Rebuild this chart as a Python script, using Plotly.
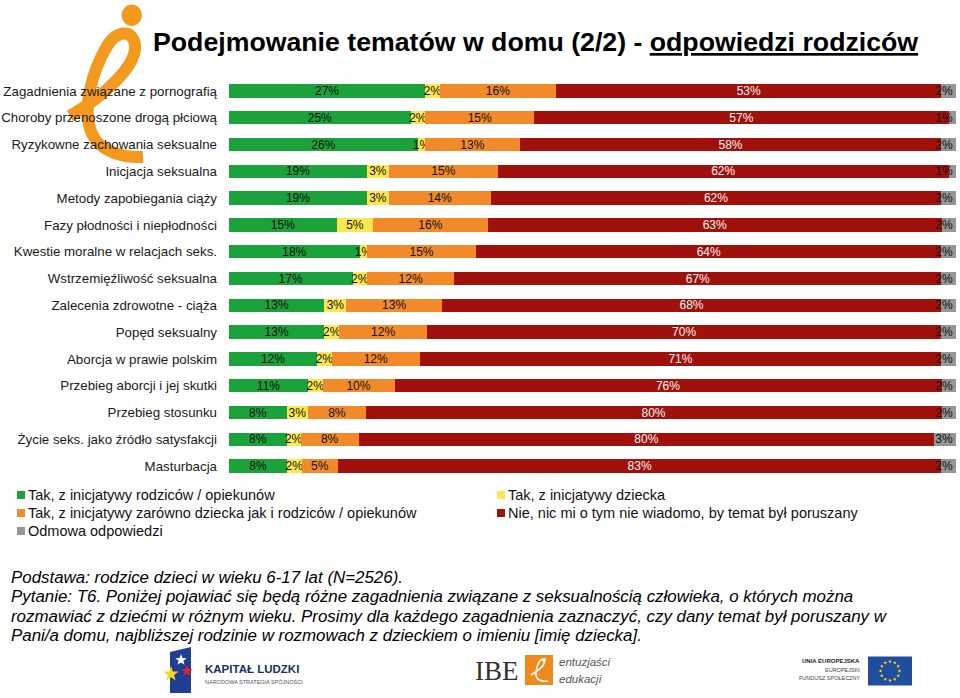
import math
import plotly.graph_objects as go

categories = [
    "Zagadnienia związane z pornografią",
    "Choroby przenoszone drogą płciową",
    "Ryzykowne zachowania seksualne",
    "Inicjacja seksualna",
    "Metody zapobiegania ciąży",
    "Fazy płodności i niepłodności",
    "Kwestie moralne w relacjach seks.",
    "Wstrzemięźliwość seksualna",
    "Zalecenia zdrowotne - ciąża",
    "Popęd seksualny",
    "Aborcja w prawie polskim",
    "Przebieg aborcji i jej skutki",
    "Przebieg stosunku",
    "Życie seks. jako źródło satysfakcji",
    "Masturbacja",
]
parents = [27, 25, 26, 19, 19, 15, 18, 17, 13, 13, 12, 11, 8, 8, 8]
child = [2, 2, 1, 3, 3, 5, 1, 2, 3, 2, 2, 2, 3, 2, 2]
both = [16, 15, 13, 15, 14, 16, 15, 12, 13, 12, 12, 10, 8, 8, 5]
no = [53, 57, 58, 62, 62, 63, 64, 67, 68, 70, 71, 76, 80, 80, 83]
refused = [2, 1, 2, 1, 2, 2, 2, 2, 2, 2, 2, 2, 2, 3, 2]

series_names = [
    "Tak, z inicjatywy rodziców / opiekunów",
    "Tak, z inicjatywy dziecka",
    "Tak, z inicjatywy zarówno dziecka jak i rodziców / opiekunów",
    "Nie, nic mi o tym nie wiadomo, by temat był poruszany",
    "Odmowa odpowiedzi",
]
series_values = [parents, child, both, no, refused]
colors = ["#1BA23A", "#FCE84E", "#F28A2A", "#A0110C", "#969696"]
text_colors = ["#111111", "#111111", "#111111", "#F4F4F4", "#111111"]
text_anchor = ["middle", "middle", "middle", "middle", "end"]

W, H = 960, 698


def X(px):
    return px / W


def Y(py):
    return 1 - py / H


totals = [sum(s[i] for s in series_values) for i in range(len(categories))]

fig = go.Figure()
for name, vals, col, tcol, anc in zip(series_names, series_values, colors, text_colors, text_anchor):
    widths = [v / t * 100 for v, t in zip(vals, totals)]
    fig.add_trace(go.Bar(
        y=categories, x=widths, orientation="h", name=name,
        marker=dict(color=col, line=dict(width=0)),
        text=[f"{v}%" for v in vals], textposition="inside",
        insidetextanchor=anc, textangle=0,
        textfont=dict(size=12, color=tcol, family="Liberation Sans, Arial"),
        hoverinfo="skip", showlegend=False,
    ))

fig.update_layout(
    width=W, height=H, barmode="stack", bargap=0.5,
    margin=dict(l=0, r=0, t=0, b=0),
    paper_bgcolor="white", plot_bgcolor="white",
    font=dict(family="Liberation Sans, Arial", color="#1a1a1a"),
    uniformtext=dict(minsize=12, mode="show"),
    xaxis=dict(domain=[X(229), X(956)], range=[0, 100], visible=False, fixedrange=True),
    yaxis=dict(domain=[Y(479.5), Y(77.5)], autorange="reversed", showgrid=False,
               showline=False, zeroline=False, ticks="", automargin=False,
               ticklabelstandoff=11, tickfont=dict(size=13.3, color="#1a1a1a")),
    showlegend=False,
)

annotations = []
annotations.append(dict(
    text="<b>Podejmowanie tematów w domu (2/2) - <u>odpowiedzi rodziców</u></b>",
    x=X(535), y=Y(42), xanchor="center", yanchor="middle",
    font=dict(size=26.7, color="#000000", family="Liberation Sans, Arial")))

footer = [
    "Podstawa: rodzice dzieci w wieku 6-17 lat (N=2526).",
    "Pytanie: T6. Poniżej pojawiać się będą różne zagadnienia związane z seksualnością człowieka, o których można",
    "rozmawiać z dziećmi w różnym wieku. Prosimy dla każdego zagadnienia zaznaczyć, czy dany temat był poruszany w",
    "Pani/a domu, najbliższej rodzinie w rozmowach z dzieckiem o imieniu [imię dziecka].",
]
for i, line in enumerate(footer):
    annotations.append(dict(
        text=f"<i>{line}</i>", x=X(9), y=Y(577 + i * 19.6), xanchor="left", yanchor="middle",
        font=dict(size=16.9, color="#000000", family="Liberation Sans, Arial")))

# legend (two columns: left column items 0,2,4; right column items 1,3)
legend_pos = [(17, 495), (497, 495), (17, 513), (497, 513), (17, 531)]
shapes = []
for name, col, (lx, ly) in zip(series_names, colors, legend_pos):
    shapes.append(dict(type="rect", xref="paper", yref="paper", x0=X(lx), x1=X(lx + 8),
                       y0=Y(ly + 4), y1=Y(ly - 4), fillcolor=col, line=dict(width=0)))
    annotations.append(dict(text=name, x=X(lx + 9), y=Y(ly), xanchor="left", yanchor="middle",
                            font=dict(size=14.5, color="#111111", family="Liberation Sans, Arial")))

# footer logos text
annotations += [
    dict(text="<b>KAPITAŁ LUDZKI</b>", x=X(203), y=Y(669), xanchor="left", yanchor="middle",
         font=dict(size=11.5, color="#1d2d5a", family="Liberation Sans, Arial")),
    dict(text="NARODOWA STRATEGIA SPÓJNOŚCI", x=X(203), y=Y(681), xanchor="left", yanchor="middle",
         font=dict(size=5.5, color="#555555", family="Liberation Sans, Arial")),
    dict(text="IBE", x=X(521), y=Y(671), xanchor="right", yanchor="middle",
         font=dict(size=27, color="#333333", family="Liberation Serif, DejaVu Serif")),
    dict(text="<i>entuzjaści</i>", x=X(557), y=Y(662), xanchor="left", yanchor="middle",
         font=dict(size=11.5, color="#555555", family="Liberation Sans, Arial")),
    dict(text="<i>edukacji</i>", x=X(557), y=Y(679), xanchor="left", yanchor="middle",
         font=dict(size=11.5, color="#555555", family="Liberation Sans, Arial")),
    dict(text="<b>UNIA EUROPEJSKA</b>", x=X(862), y=Y(661), xanchor="right", yanchor="middle",
         font=dict(size=6, color="#222222", family="Liberation Sans, Arial")),
    dict(text="EUROPEJSKI", x=X(862), y=Y(670), xanchor="right", yanchor="middle",
         font=dict(size=5.5, color="#444444", family="Liberation Sans, Arial")),
    dict(text="FUNDUSZ SPOŁECZNY", x=X(862), y=Y(678), xanchor="right", yanchor="middle",
         font=dict(size=5.5, color="#444444", family="Liberation Sans, Arial")),
]
for a in annotations:
    a.update(xref="paper", yref="paper", showarrow=False)
fig.update_layout(annotations=annotations)


def path_px(cmds):
    out = []
    for c in cmds:
        if isinstance(c, str):
            out.append(c)
        else:
            out.append(f"{X(c[0]):.5f},{Y(c[1]):.5f}")
    return " ".join(out)


def star_path(cx, cy, r_out, r_in):
    pts = []
    for k in range(10):
        ang = -math.pi / 2 + k * math.pi / 5
        r = r_out if k % 2 == 0 else r_in
        pts.append((cx + r * math.cos(ang), cy + r * math.sin(ang)))
    cmds = ["M", pts[0]]
    for p in pts[1:]:
        cmds += ["L", p]
    cmds.append("Z")
    return path_px(cmds)


orange = "#F39A1E"
# top-left orange "e" logo
shapes.append(dict(type="circle", xref="paper", yref="paper", x0=X(121.5), x1=X(142), y0=Y(26), y1=Y(4.5),
                   fillcolor=orange, line=dict(width=0), layer="below"))
shapes.append(dict(type="path", xref="paper", yref="paper", layer="below",
                   path=path_px(["M", (70, 116), "C", (104, 96), (137, 66), (135, 45),
                                 "C", (133, 29), (117, 30), (107, 46),
                                 "C", (93, 70), (81, 108), (92, 134),
                                 "C", (100, 152), (124, 158), (143, 157)]),
                   line=dict(color=orange, width=12)))
# Kapitał Ludzki graphic
shapes.append(dict(type="path", xref="paper", yref="paper",
                   path=path_px(["M", (170, 652), "L", (191, 647), "L", (191, 693), "L", (170, 693), "Z"]),
                   fillcolor="#1F3F94", line=dict(width=0)))
shapes.append(dict(type="path", xref="paper", yref="paper", path=star_path(181, 660, 6, 2.5),
                   fillcolor="#FFFFFF", line=dict(width=0)))
shapes.append(dict(type="path", xref="paper", yref="paper", path=star_path(187, 671, 6, 2.5),
                   fillcolor="#E2232A", line=dict(width=0)))
shapes.append(dict(type="path", xref="paper", yref="paper", path=star_path(171, 674, 8, 3.2),
                   fillcolor="#F8D71C", line=dict(width=0)))
# IBE orange square with e
shapes.append(dict(type="rect", xref="paper", yref="paper", x0=X(525), x1=X(553), y0=Y(685), y1=Y(655),
                   fillcolor="#F08A1C", line=dict(width=0)))
shapes.append(dict(type="path", xref="paper", yref="paper",
                   path=path_px(["M", (531, 675), "C", (540, 670), (546, 664), (544, 660),
                                 "C", (541, 657), (537, 664), (536, 672),
                                 "C", (535, 679), (540, 682), (548, 681)]),
                   line=dict(color="#FFFFFF", width=1.6)))
shapes.append(dict(type="circle", xref="paper", yref="paper", x0=X(542), x1=X(546), y0=Y(662), y1=Y(658),
                   fillcolor="#FFFFFF", line=dict(width=0)))
# EU flag
shapes.append(dict(type="rect", xref="paper", yref="paper", x0=X(868), x1=X(912), y0=Y(685.5), y1=Y(656.5),
                   fillcolor="#1F4EA1", line=dict(width=0)))
for k in range(12):
    ang = k * math.pi / 6
    sx, sy = 890 + 9.5 * math.cos(ang), 671 + 9.5 * math.sin(ang)
    shapes.append(dict(type="path", xref="paper", yref="paper", path=star_path(sx, sy, 1.8, 0.8),
                       fillcolor="#FFE400", line=dict(width=0)))
fig.update_layout(shapes=shapes)

fig.write_html("out.html")
